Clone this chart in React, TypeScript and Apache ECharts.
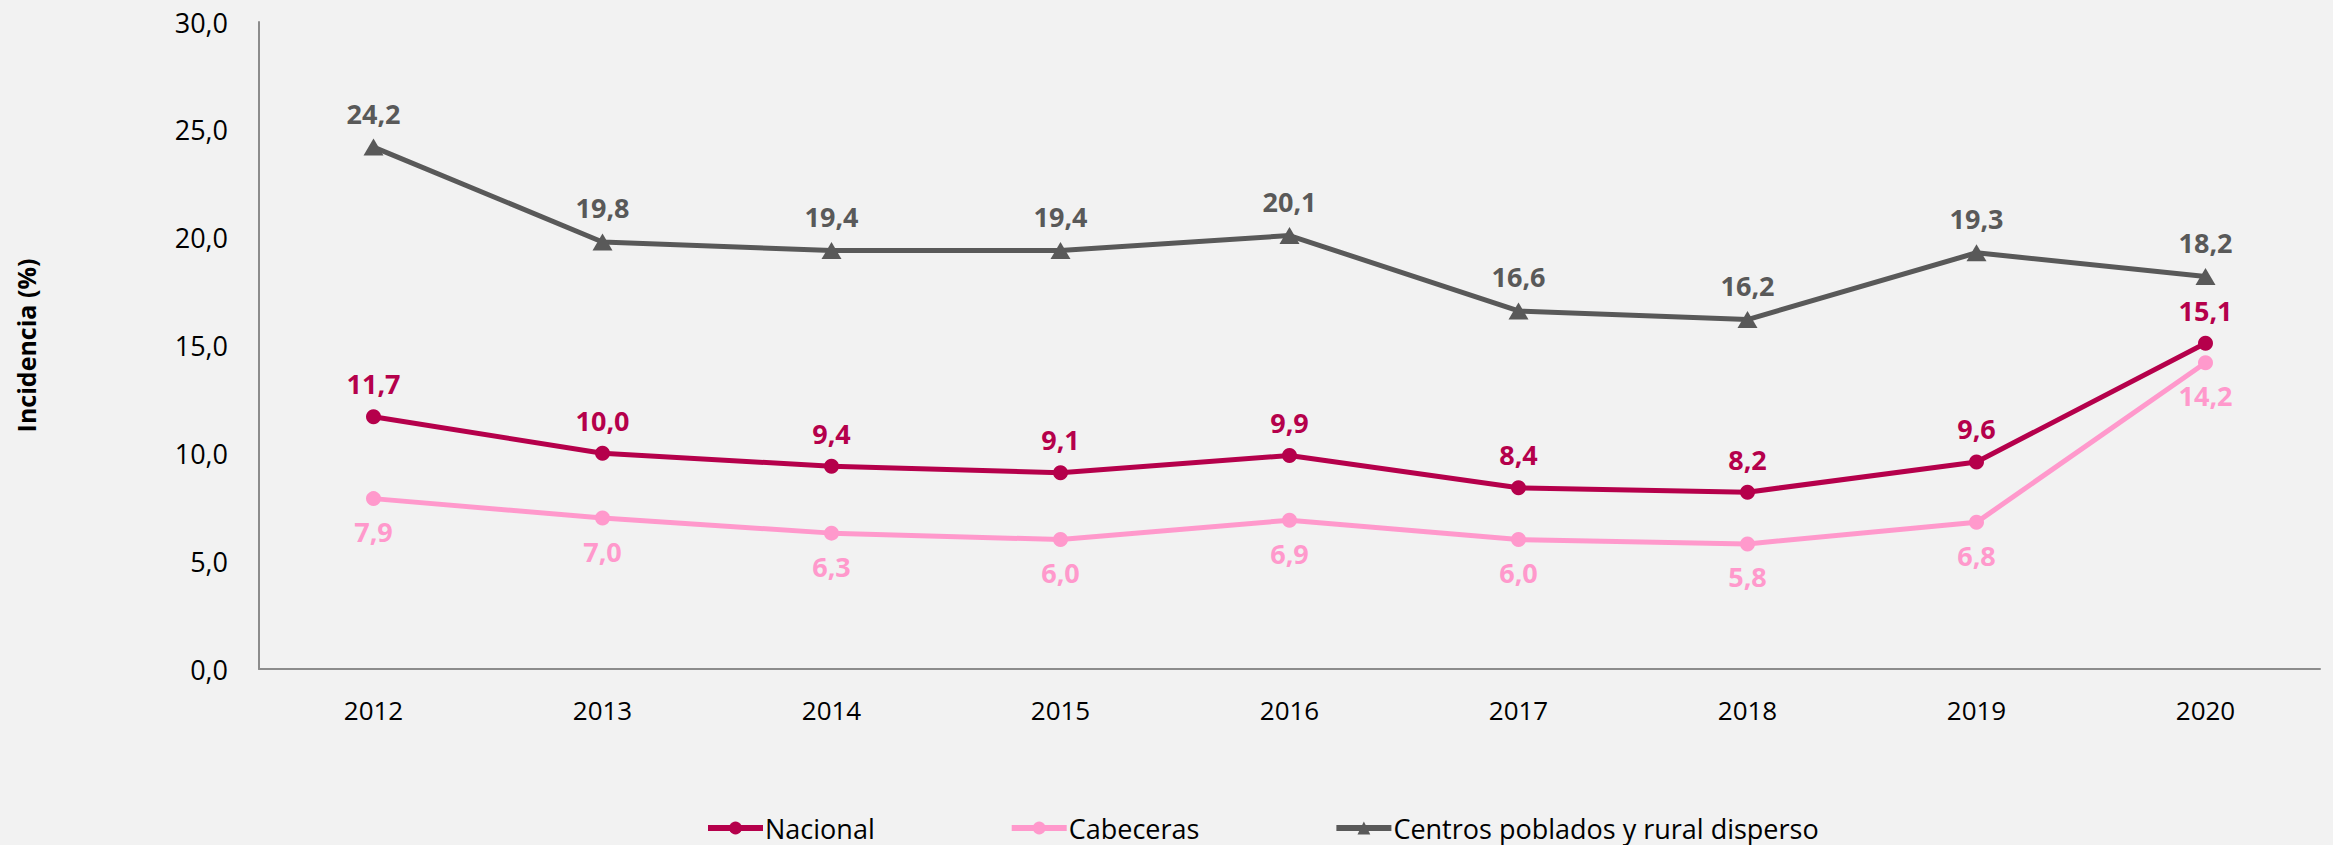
import React, { useEffect, useRef } from "react";
import * as echarts from "echarts";

const years = ["2012", "2013", "2014", "2015", "2016", "2017", "2018", "2019", "2020"];
const nacional = [11.7, 10.0, 9.4, 9.1, 9.9, 8.4, 8.2, 9.6, 15.1];
const cabeceras = [7.9, 7.0, 6.3, 6.0, 6.9, 6.0, 5.8, 6.8, 14.2];
const centros = [24.2, 19.8, 19.4, 19.4, 20.1, 16.6, 16.2, 19.3, 18.2];

const FONT = "'Open Sans', 'Noto Sans', sans-serif";
const fmt = (v: number) => v.toFixed(1).replace(".", ",");

export default function App() {
  const ref = useRef<HTMLDivElement>(null);
  useEffect(() => {
    if (!ref.current) return;
    const chart = echarts.init(ref.current, undefined, { renderer: "svg" });
    const lbl = (color: string, pos: string) => ({
      show: true,
      position: pos,
      distance: 12,
      color,
      fontFamily: FONT,
      fontWeight: "bold",
      fontSize: 27,
      formatter: (p: any) => fmt(p.value),
    });
    chart.setOption({
      animation: false,
      backgroundColor: "#F2F2F2",
      textStyle: { fontFamily: FONT },
      grid: { left: 259, top: 22, right: 13, bottom: 176 },
      legend: {
        left: 700,
        top: 806,
        itemWidth: 55,
        itemHeight: 16,
        itemGap: 134,
        lineStyle: { width: 6 },
        textStyle: { fontSize: 27, color: "#000", fontFamily: FONT, lineHeight: 34, padding: [0, 0, 0, -3] },
        data: ["Nacional", "Cabeceras", "Centros poblados y rural disperso"],
      },
      xAxis: {
        type: "category",
        data: years,
        boundaryGap: true,
        axisLine: { lineStyle: { color: "#8C8C8C", width: 2 } },
        axisTick: { show: false },
        axisLabel: { color: "#000", fontSize: 26, fontFamily: FONT, margin: 28 },
      },
      yAxis: {
        type: "value",
        min: 0,
        max: 30,
        interval: 5,
        name: "Incidencia (%)",
        nameLocation: "middle",
        nameGap: 221,
        nameTextStyle: { fontSize: 25, fontWeight: "bold", color: "#000", fontFamily: FONT },
        axisLine: { show: true, lineStyle: { color: "#8C8C8C", width: 2 } },
        axisTick: { show: false },
        splitLine: { show: false },
        axisLabel: {
          color: "#000",
          fontSize: 27,
          fontFamily: FONT,
          margin: 31,
          formatter: (v: number) => fmt(v),
        },
      },
      series: [
        {
          name: "Nacional",
          type: "line",
          data: nacional,
          symbol: "circle",
          symbolSize: 15,
          lineStyle: { color: "#B5004B", width: 5 },
          itemStyle: { color: "#B5004B" },
          label: lbl("#B5004B", "top"),
          z: 3,
        },
        {
          name: "Cabeceras",
          type: "line",
          data: cabeceras,
          symbol: "circle",
          symbolSize: 15,
          lineStyle: { color: "#FF99CC", width: 5 },
          itemStyle: { color: "#FF99CC" },
          label: lbl("#FF99CC", "bottom"),
          z: 2,
        },
        {
          name: "Centros poblados y rural disperso",
          type: "line",
          data: centros,
          symbol: "triangle",
          symbolSize: [20, 17],
          lineStyle: { color: "#595959", width: 5 },
          itemStyle: { color: "#595959" },
          label: lbl("#595959", "top"),
          z: 2,
        },
      ],
    });
    return () => chart.dispose();
  }, []);
  return (
    <div
      ref={ref}
      style={{ position: "fixed", left: 0, top: 0, width: 2333, height: 845 }}
    />
  );
}
